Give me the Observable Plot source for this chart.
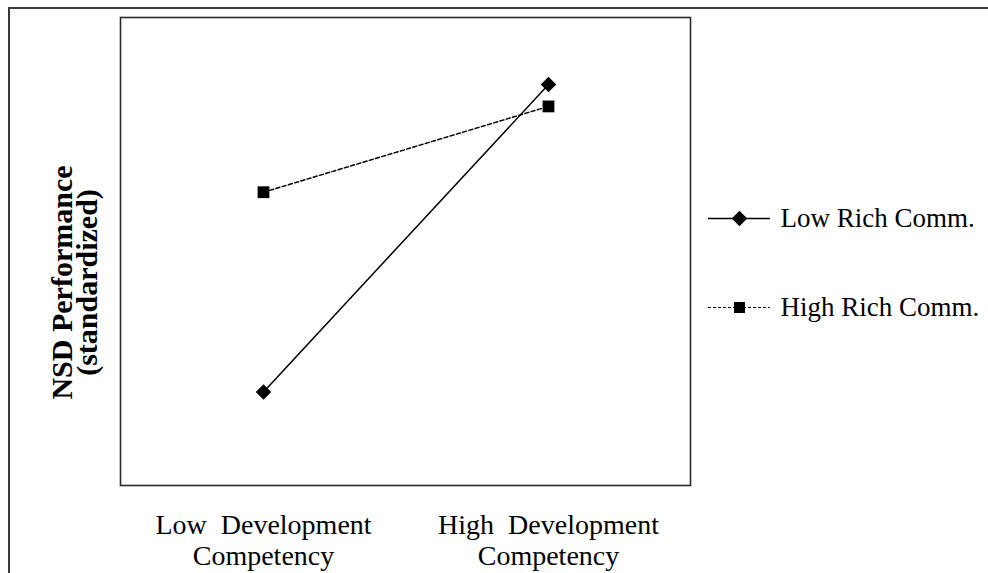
<!DOCTYPE html>
<html>
<head>
<meta charset="utf-8">
<script src="https://cdn.jsdelivr.net/npm/d3@7"></script>
<script src="https://cdn.jsdelivr.net/npm/@observablehq/plot@0.6"></script>
<style>
  html, body { margin: 0; padding: 0; background: #fff; }
  #wrap { position: relative; width: 988px; height: 573px; overflow: hidden; }
  #border { position: absolute; left: 8px; top: 7px; width: 990px; height: 600px;
            border-left: 2px solid #3a3a3a; border-top: 2px solid #3a3a3a; box-sizing: border-box; }
  #chart { position: absolute; left: 0; top: 0; }
  #legend { position: absolute; left: 700px; top: 170px; }
  svg text { white-space: pre; }
</style>
</head>
<body>
<div id="wrap">
  <div id="border"></div>
  <div id="chart"></div>
  <div id="legend"></div>
</div>
<script>
// Data
const categories = ["Low  Development\nCompetency", "High  Development\nCompetency"];
const seriesNames = ["Low Rich Comm.", "High Rich Comm."];
const lowRich = [-0.90, 1.07];
const highRich = [0.38, 0.93];
const yLabel = "NSD Performance\n(standardized)";

const rows = [];
categories.forEach((c, i) => {
  rows.push({cat: c, series: seriesNames[0], value: lowRich[i]});
  rows.push({cat: c, series: seriesNames[1], value: highRich[i]});
});
const lowRows = rows.filter(d => d.series === seriesNames[0]);
const highRows = rows.filter(d => d.series === seriesNames[1]);

const serif = "'Liberation Serif', 'Times New Roman', serif";

const chart = Plot.plot({
  width: 988,
  height: 573,
  marginLeft: 120,
  marginRight: 298,
  marginTop: 17,
  marginBottom: 88,
  style: {fontFamily: serif, background: "transparent", color: "#000"},
  x: {type: "point", domain: categories, padding: 0.5},
  y: {domain: [-1.5, 1.5]},
  marks: [
    Plot.frame({stroke: "#2a2a2a", strokeWidth: 1.6}),
    Plot.axisX({tickSize: 0, tickPadding: 27, fontSize: 28, label: null, tickFormat: d => d, lineHeight: 1.1}),
    Plot.axisY({ticks: [], label: null}),
    Plot.line(lowRows, {x: "cat", y: "value", stroke: "#000", strokeWidth: 1.5}),
    Plot.line(highRows, {x: "cat", y: "value", stroke: "#000", strokeWidth: 1.5, strokeDasharray: "4,2.5"}),
    Plot.dot(lowRows, {x: "cat", y: "value", symbol: "diamond2", r: 7, fill: "#000", stroke: "none"}),
    Plot.dot(highRows, {x: "cat", y: "value", symbol: "square2", r: 7.5, fill: "#000", stroke: "none"}),
    Plot.text([yLabel], {frameAnchor: "left", dx: -44, dy: 31, rotate: -90, text: d => d,
      fontSize: 30, fontWeight: "bold", lineHeight: 0.82, textAnchor: "middle", lineAnchor: "middle", fill: "#000"})
  ]
});
document.getElementById("chart").appendChild(chart);

const legendRows = seriesNames.map((s, i) => ({series: s, dash: i === 0 ? null : "3,2", symbol: i === 0 ? "diamond2" : "square2"}));
const legend = Plot.plot({
  width: 288,
  height: 170,
  margin: 0,
  style: {fontFamily: serif, background: "transparent", color: "#000"},
  x: {domain: [0, 1], range: [8, 70], axis: null},
  y: {type: "point", domain: seriesNames, range: [48, 137], padding: 0, axis: null},
  symbol: {domain: ["diamond2", "square2"], range: ["diamond2", "square2"]},
  marks: [
    Plot.ruleY(legendRows.filter(d => !d.dash), {y: "series", x1: 0, x2: 1, stroke: "#000", strokeWidth: 1.5}),
    Plot.ruleY(legendRows.filter(d => d.dash), {y: "series", x1: 0, x2: 1, stroke: "#000", strokeWidth: 1.2, strokeDasharray: "3,2"}),
    Plot.dot(legendRows, {x: 0.5, y: "series", symbol: "symbol", r: 7, fill: "#000", stroke: "none"}),
    Plot.text(legendRows, {x: 1, dx: 10, y: "series", text: "series", textAnchor: "start", lineAnchor: "middle", fontSize: 27, fill: "#000"})
  ]
});
document.getElementById("legend").appendChild(legend);
</script>
</body>
</html>
